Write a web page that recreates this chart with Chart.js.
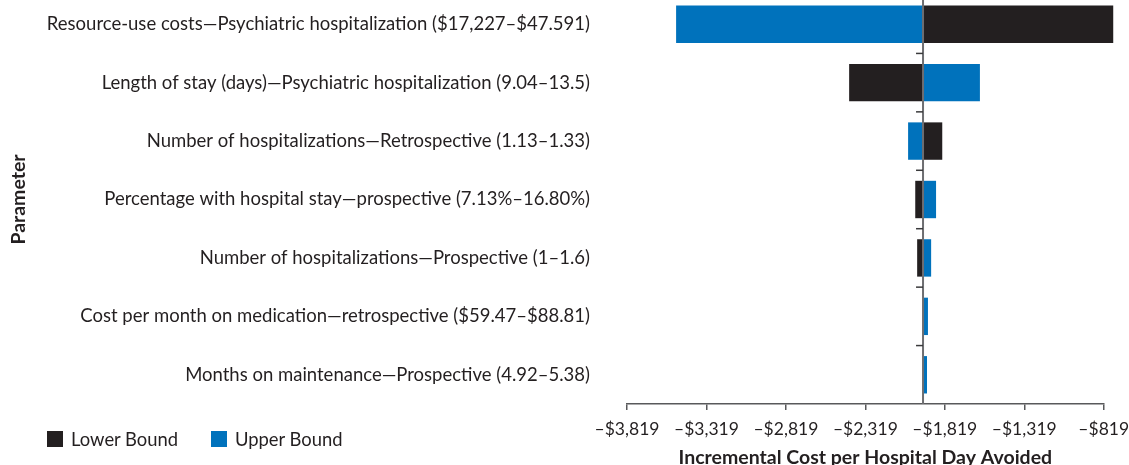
<!DOCTYPE html>
<html>
<head>
<meta charset="utf-8">
<title>Tornado diagram</title>
<script src="https://cdn.jsdelivr.net/npm/chart.js@4/dist/chart.umd.min.js"></script>
<style>
    html, body {
        margin: 0;
        padding: 0;
        background: #ffffff;
        overflow: hidden;
    }
    #page {
        position: relative;
        width: 1129px;
        height: 465px;
        overflow: hidden;
    }
    #chartBox {
        position: absolute;
        left: 0;
        top: -5px;
        width: 1129px;
        height: 472px;
    }
    .legend-item {
        position: absolute;
        top: 429px;
        height: 20px;
        line-height: 20px;
        font-family: Lato, sans-serif;
        font-size: 18.4px;
        color: #231f20;
        white-space: nowrap;
    }
    .legend-swatch {
        position: absolute;
        left: 0;
        top: 2px;
        width: 16px;
        height: 16px;
    }
    .legend-label {
        position: absolute;
        left: 24px;
        top: 0;
    }
</style>
</head>
<body>
<div id="page">
    <div id="chartBox"><canvas id="tornadoChart"></canvas></div>
    <div class="legend-item" style="left:47px;">
        <span class="legend-swatch" style="background:#231f20;"></span>
        <span class="legend-label">Lower Bound</span>
    </div>
    <div class="legend-item" style="left:211px;">
        <span class="legend-swatch" style="background:#0072bc;"></span>
        <span class="legend-label">Upper Bound</span>
    </div>
</div>

<script>
// --- data ---
const parameters = [
    "Resource-use costs\u2014Psychiatric hospitalization ($17,227\u2013$47.591)",
    "Length of stay (days)\u2014Psychiatric hospitalization (9.04\u201313.5)",
    "Number of hospitalizations\u2014Retrospective (1.13\u20131.33)",
    "Percentage with hospital stay\u2014prospective (7.13%\u201316.80%)",
    "Number of hospitalizations\u2014Prospective (1\u20131.6)",
    "Cost per month on medication\u2014retrospective ($59.47\u2013$88.81)",
    "Months on maintenance\u2014Prospective (4.92\u20135.38)"
];

// base case (where the bars meet)
const baseCase = -1956;

// value of the result at each bound
const lowerBoundValues = [-759, -2421, -1835, -2005, -1993, -1957, -1957];
const upperBoundValues = [-3510, -1598, -2050, -1874, -1905, -1925, -1931];

const xTickValues = [-3819, -3319, -2819, -2319, -1819, -1319, -819];
const xTickLabels = ["\u2013$3,819", "\u2013$3,319", "\u2013$2,819", "\u2013$2,319", "\u2013$1,819", "\u2013$1,319", "\u2013$819"];

const textColor = "#231f20";
const axisColor = "#58595b";

// vertical line at the base case, with small ticks between rows
const baseLinePlugin = {
    id: "baseLine",
    afterDatasetsDraw(chart) {
        const ctx = chart.ctx;
        const xScale = chart.scales.x;
        const yScale = chart.scales.y;
        const x = xScale.getPixelForValue(baseCase);

        ctx.save();
        ctx.strokeStyle = "#6d6e71";
        ctx.lineWidth = 2;
        ctx.beginPath();
        ctx.moveTo(x, chart.chartArea.top);
        ctx.lineTo(x, chart.chartArea.bottom);
        ctx.stroke();

        ctx.strokeStyle = "#3a3a3c";
        ctx.lineWidth = 1.5;
        for (let i = 1; i < parameters.length; i++) {
            const y = (yScale.getPixelForValue(i - 1) + yScale.getPixelForValue(i)) / 2;
            ctx.beginPath();
            ctx.moveTo(x - 7, y);
            ctx.lineTo(x, y);
            ctx.stroke();
        }
        ctx.restore();
    }
};

const lowerData = lowerBoundValues.map(v => [baseCase, v]);
const upperData = upperBoundValues.map(v => [baseCase, v]);

new Chart(document.getElementById("tornadoChart"), {
    type: "bar",
    data: {
        labels: parameters,
        datasets: [
            {
                label: "Lower Bound",
                data: lowerData,
                backgroundColor: "#231f20",
                borderWidth: 0,
                grouped: false,
                clip: false,
                barPercentage: 0.64,
                categoryPercentage: 1
            },
            {
                label: "Upper Bound",
                data: upperData,
                backgroundColor: "#0072bc",
                borderWidth: 0,
                grouped: false,
                clip: false,
                barPercentage: 0.64,
                categoryPercentage: 1
            }
        ]
    },
    options: {
        indexAxis: "y",
        responsive: true,
        maintainAspectRatio: false,
        animation: false,
        layout: {
            padding: { top: 0, right: 25.3, bottom: 0, left: 0 }
        },
        plugins: {
            legend: { display: false },
            tooltip: { enabled: false }
        },
        scales: {
            x: {
                type: "linear",
                min: xTickValues[0],
                max: xTickValues[xTickValues.length - 1],
                afterBuildTicks(scale) {
                    scale.ticks = xTickValues.map(v => ({ value: v }));
                },
                afterFit(scale) {
                    scale.height = 63;
                    // les libellés du bord ne doivent pas rétrécir la zone
                    scale.paddingLeft = 0;
                    scale.paddingRight = 0;
                },
                grid: {
                    drawOnChartArea: false,
                    drawTicks: true,
                    tickLength: 6,
                    color: axisColor,
                    lineWidth: 1.5
                },
                border: {
                    display: true,
                    color: axisColor,
                    width: 1.5
                },
                ticks: {
                    autoSkip: false,
                    maxRotation: 0,
                    padding: 9,
                    color: textColor,
                    font: { family: "Lato", size: 17.5 },
                    callback: function (value, index) {
                        return xTickLabels[index];
                    }
                },
                title: {
                    display: true,
                    text: "Incremental Cost per Hospital Day Avoided",
                    color: textColor,
                    font: { family: "Lato", size: 19.5, weight: "bold", lineHeight: 1 },
                    padding: { top: 0, bottom: 0 }
                }
            },
            y: {
                type: "category",
                afterFit(scale) {
                    // la marge des ticks ne doit pas pousser la zone vers le bas
                    scale.width = 627;
                    scale.paddingTop = 0;
                    scale.paddingBottom = 0;
                },
                grid: { display: false, drawTicks: false },
                border: { display: false },
                ticks: {
                    autoSkip: false,
                    padding: 37,
                    color: textColor,
                    font: { family: "Lato", size: 18.5 }
                },
                title: {
                    display: true,
                    text: "Parameter",
                    color: textColor,
                    font: { family: "Lato", size: 19.5, weight: "bold", lineHeight: 1 },
                    padding: { top: 8.5, bottom: 0 }
                }
            }
        }
    },
    plugins: [baseLinePlugin]
});
</script>
</body>
</html>
